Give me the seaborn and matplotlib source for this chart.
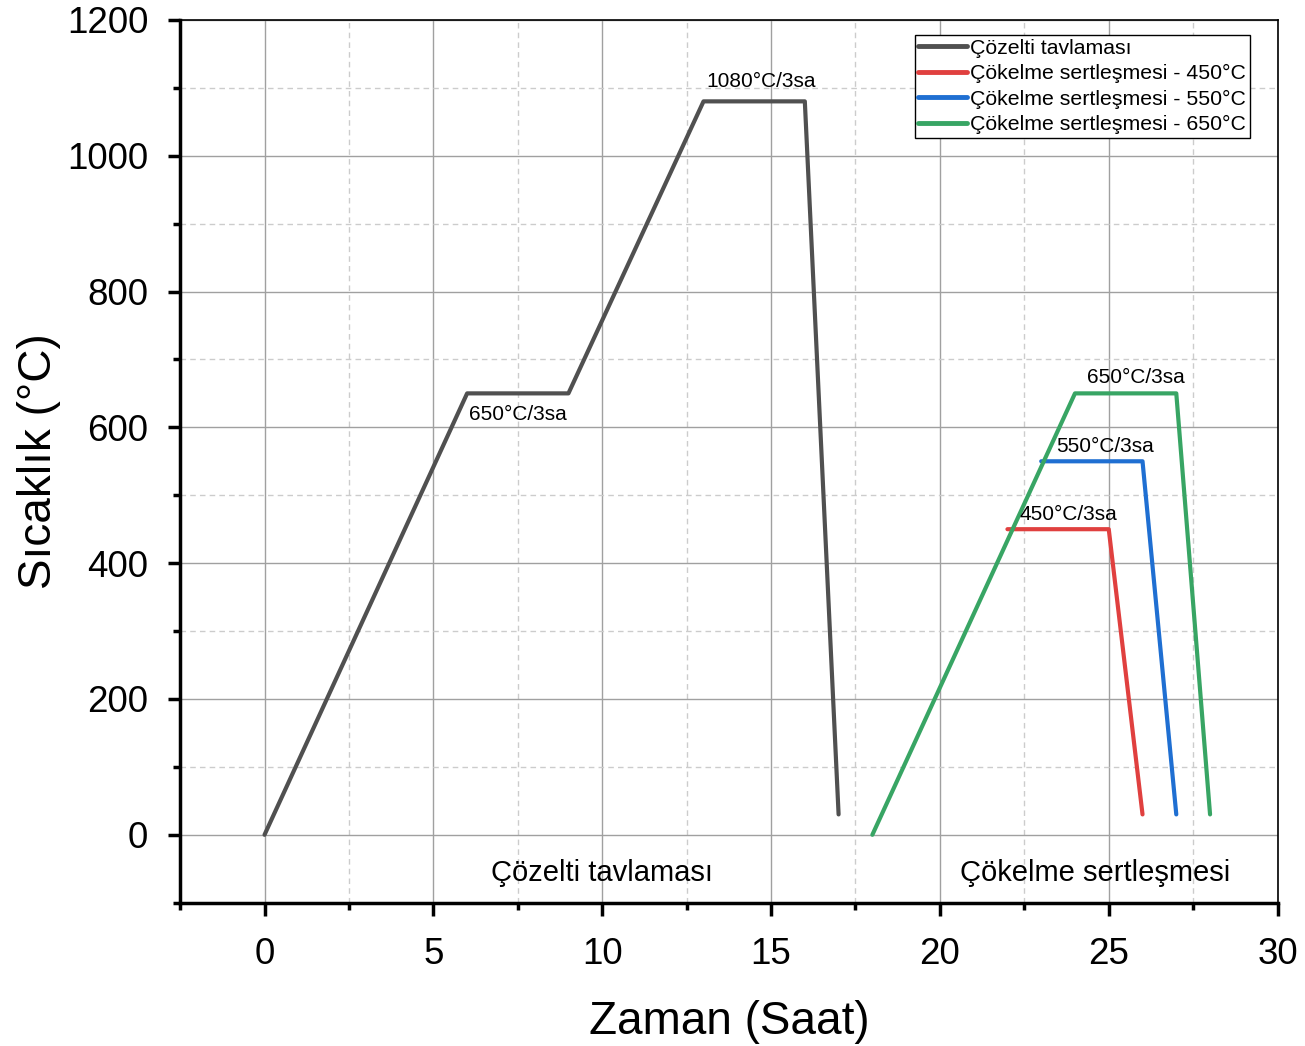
import pandas as pd
import numpy as np
import seaborn as sns
import matplotlib.pyplot as plt
from matplotlib.ticker import MultipleLocator

# heat treatment profiles (time in hours, temperature in C)
cozelti_t = [0, 6, 9, 13, 16, 17]
cozelti_T = [0, 650, 650, 1080, 1080, 30]
c450_t = [22, 25, 26]
c450_T = [450, 450, 30]
c550_t = [23, 26, 27]
c550_T = [550, 550, 30]
c650_t = [18, 24, 27, 28]
c650_T = [0, 650, 650, 30]

labels = ['Çözelti tavlaması', 'Çökelme sertleşmesi - 450°C',
          'Çökelme sertleşmesi - 550°C', 'Çökelme sertleşmesi - 650°C']
colors = ['#505050', '#e0403f', '#1f6fd2', '#38a564']

sns.set_style('white')
plt.rcParams['font.family'] = ['Liberation Sans', 'DejaVu Sans']
plt.rcParams['text.color'] = 'black'
plt.rcParams['axes.labelcolor'] = 'black'
plt.rcParams['xtick.color'] = 'black'
plt.rcParams['ytick.color'] = 'black'

fig = plt.figure(figsize=(13.05, 10.46), dpi=100)
ax = fig.add_axes([0.138, 0.137, 0.841, 0.844])

series = [(cozelti_t, cozelti_T), (c450_t, c450_T), (c550_t, c550_T), (c650_t, c650_T)]
for (t, T), lab, c in zip(series, labels, colors):
    df = pd.DataFrame({'t': t, 'T': T})
    sns.lineplot(data=df, x='t', y='T', sort=False, color=c, lw=3.0, label=lab, ax=ax)

ax.set_xlim(-2.5, 30)
ax.set_ylim(-100, 1200)
ax.xaxis.set_major_locator(MultipleLocator(5))
ax.xaxis.set_minor_locator(MultipleLocator(2.5))
ax.yaxis.set_major_locator(MultipleLocator(200))
ax.yaxis.set_minor_locator(MultipleLocator(100))
ax.grid(which='major', color='#a0a0a0', lw=1.0, ls='-')
ax.grid(which='minor', color='#cccccc', lw=1.0, ls=(0, (4, 3)))
ax.set_axisbelow(True)

for s in ['left', 'bottom']:
    ax.spines[s].set_linewidth(2.5)
    ax.spines[s].set_color('black')
for s in ['top', 'right']:
    ax.spines[s].set_linewidth(1.2)
    ax.spines[s].set_color('black')

ax.tick_params(axis='y', which='major', pad=14)
ax.tick_params(axis='x', which='major', pad=16)
ax.tick_params(which='major', direction='out', length=9, width=2.5, labelsize=26.5,
               left=True, bottom=True)
ax.tick_params(which='minor', direction='out', length=5, width=2.5, left=True, bottom=True)

ax.set_xlabel('Zaman (Saat)', fontsize=33, labelpad=20)
ax.set_ylabel('Sıcaklık (°C)', fontsize=33, labelpad=4)

ann = 15
ax.text(14.7, 1095, '1080°C/3sa', ha='center', va='bottom', fontsize=ann)
ax.text(7.5, 605, '650°C/3sa', ha='center', va='bottom', fontsize=ann)
ax.text(25.8, 659, '650°C/3sa', ha='center', va='bottom', fontsize=ann)
ax.text(24.9, 558, '550°C/3sa', ha='center', va='bottom', fontsize=ann)
ax.text(23.8, 458, '450°C/3sa', ha='center', va='bottom', fontsize=ann)
ax.text(10, -57, 'Çözelti tavlaması', ha='center', va='center', fontsize=21)
ax.text(24.6, -57, 'Çökelme sertleşmesi', ha='center', va='center', fontsize=21)

leg = ax.legend(loc='upper right', bbox_to_anchor=(0.975, 0.983), fontsize=15.3,
                frameon=True, fancybox=False, borderpad=0.18, labelspacing=0.3,
                handlelength=2.3, handletextpad=0.15, borderaxespad=0)
leg.get_frame().set_edgecolor('black')
leg.get_frame().set_linewidth(1.0)
leg.get_frame().set_alpha(1)
for line in leg.get_lines():
    line.set_linewidth(3.5)

plt.savefig('out.png', dpi=100)
